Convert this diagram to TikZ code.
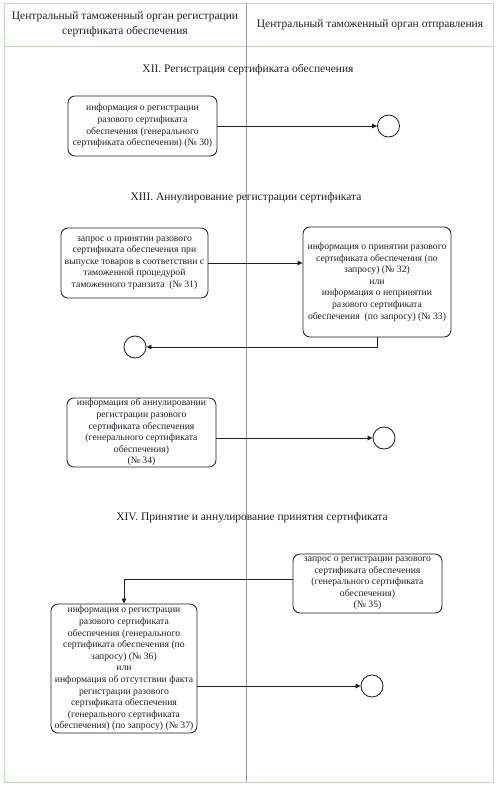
\documentclass[tikz,border=0pt]{standalone}
\usepackage{fontspec}
\setmainfont{Liberation Serif}
\usetikzlibrary{arrows.meta}
\definecolor{framegreen}{RGB}{190,222,190}
\definecolor{ink}{RGB}{30,30,40}
\tikzset{
  msgbox/.style={draw=ink, line width=0.85pt, rounded corners=7pt, align=center,
    inner sep=1pt, font=\fontsize{9.7}{11.6}\selectfont, text=ink},
  endcircle/.style={draw=ink, line width=0.85pt, circle, minimum size=22pt, inner sep=0pt},
  flow/.style={draw=ink, line width=0.75pt, -{Triangle[length=5pt,width=4.5pt]}},
  sectitle/.style={font=\fontsize{11.5}{14}\selectfont, text=ink},
  headtext/.style={font=\fontsize{11.5}{15}\selectfont, align=center, text=ink},
}
\begin{document}
\begin{tikzpicture}[x=1pt,y=-1pt]
\useasboundingbox (0,0) rectangle (496,786);
% frame and lanes
\draw[framegreen, line width=0.7pt] (4,3) rectangle (493,782);
\draw[framegreen, line width=0.7pt] (4,46) -- (493,46);
\draw[gray!80, line width=0.6pt] (246,3) -- (246,782);
\node[headtext] (hl) at (125,24.5) {Центральный таможенный орган регистрации\\сертификата обеспечения};
\node[headtext] (hr) at (370,25) {Центральный таможенный орган отправления};
% section titles
\node[sectitle] (t12) at (248,70) {XII. Регистрация сертификата обеспечения};
\node[sectitle] (t13) at (246,198) {XIII. Аннулирование регистрации сертификата};
\node[sectitle] (t14) at (252,518) {XIV. Принятие и аннулирование принятия сертификата};
% section XII
\node[msgbox, minimum width=149pt, minimum height=60pt] (b1) at (142.5,126)
  {информация о регистрации\\разового сертификата\\обеспечения (генерального\\сертификата обеспечения) (№ 30)};
\node[endcircle] (c1) at (388.5,126) {};
\draw[flow] (b1.east) -- (c1.west);
% section XIII
\node[msgbox, minimum width=147pt, minimum height=70pt] (b2) at (134.5,263)
  {запрос о принятии разового\\сертификата обеспечения при\\выпуске товаров в соответствии с\\таможенной процедурой\\таможенного транзита~ (№ 31)};
\node[msgbox, minimum width=148pt, minimum height=110pt] (b3) at (377,282)
  {информация о принятии разового\\сертификата обеспечения (по\\запросу) (№ 32)\\или\\информация о непринятии\\разового сертификата\\обеспечения~ (по запросу) (№ 33)};
\node[endcircle] (c2) at (135,347) {};
\draw[flow] (b2.east) -- (b2.east -| b3.west);
\draw[flow] (b3.south) |- (c2.east);
\node[msgbox, minimum width=149pt, minimum height=69pt] (b4) at (141.5,432.5)
  {информация об аннулировании\\регистрации разового\\сертификата обеспечения\\(генерального сертификата\\обеспечения)\\(№ 34)};
\node[endcircle] (c3) at (384,438) {};
\draw[flow] (b4.east |- c3) -- (c3.west);
% section XIV
\node[msgbox, minimum width=149pt, minimum height=59pt] (b5) at (367.5,583.5)
  {запрос о регистрации разового\\сертификата обеспечения\\(генерального сертификата\\обеспечения)\\(№ 35)};
\node[msgbox, minimum width=146pt, minimum height=129pt] (b6) at (124,668.5)
  {информация о регистрации\\разового сертификата\\обеспечения (генерального\\сертификата обеспечения (по\\запросу) (№ 36)\\или\\информация об отсутствии факта\\регистрации разового\\сертификата обеспечения\\(генерального сертификата\\обеспечения) (по запросу) (№ 37)};
\coordinate (k5) at (293,579);
\draw[flow] (k5) -| (b6.north);
\node[endcircle] (c4) at (372,686) {};
\draw[flow] (b6.east |- c4) -- (c4.west);
\end{tikzpicture}
\end{document}
